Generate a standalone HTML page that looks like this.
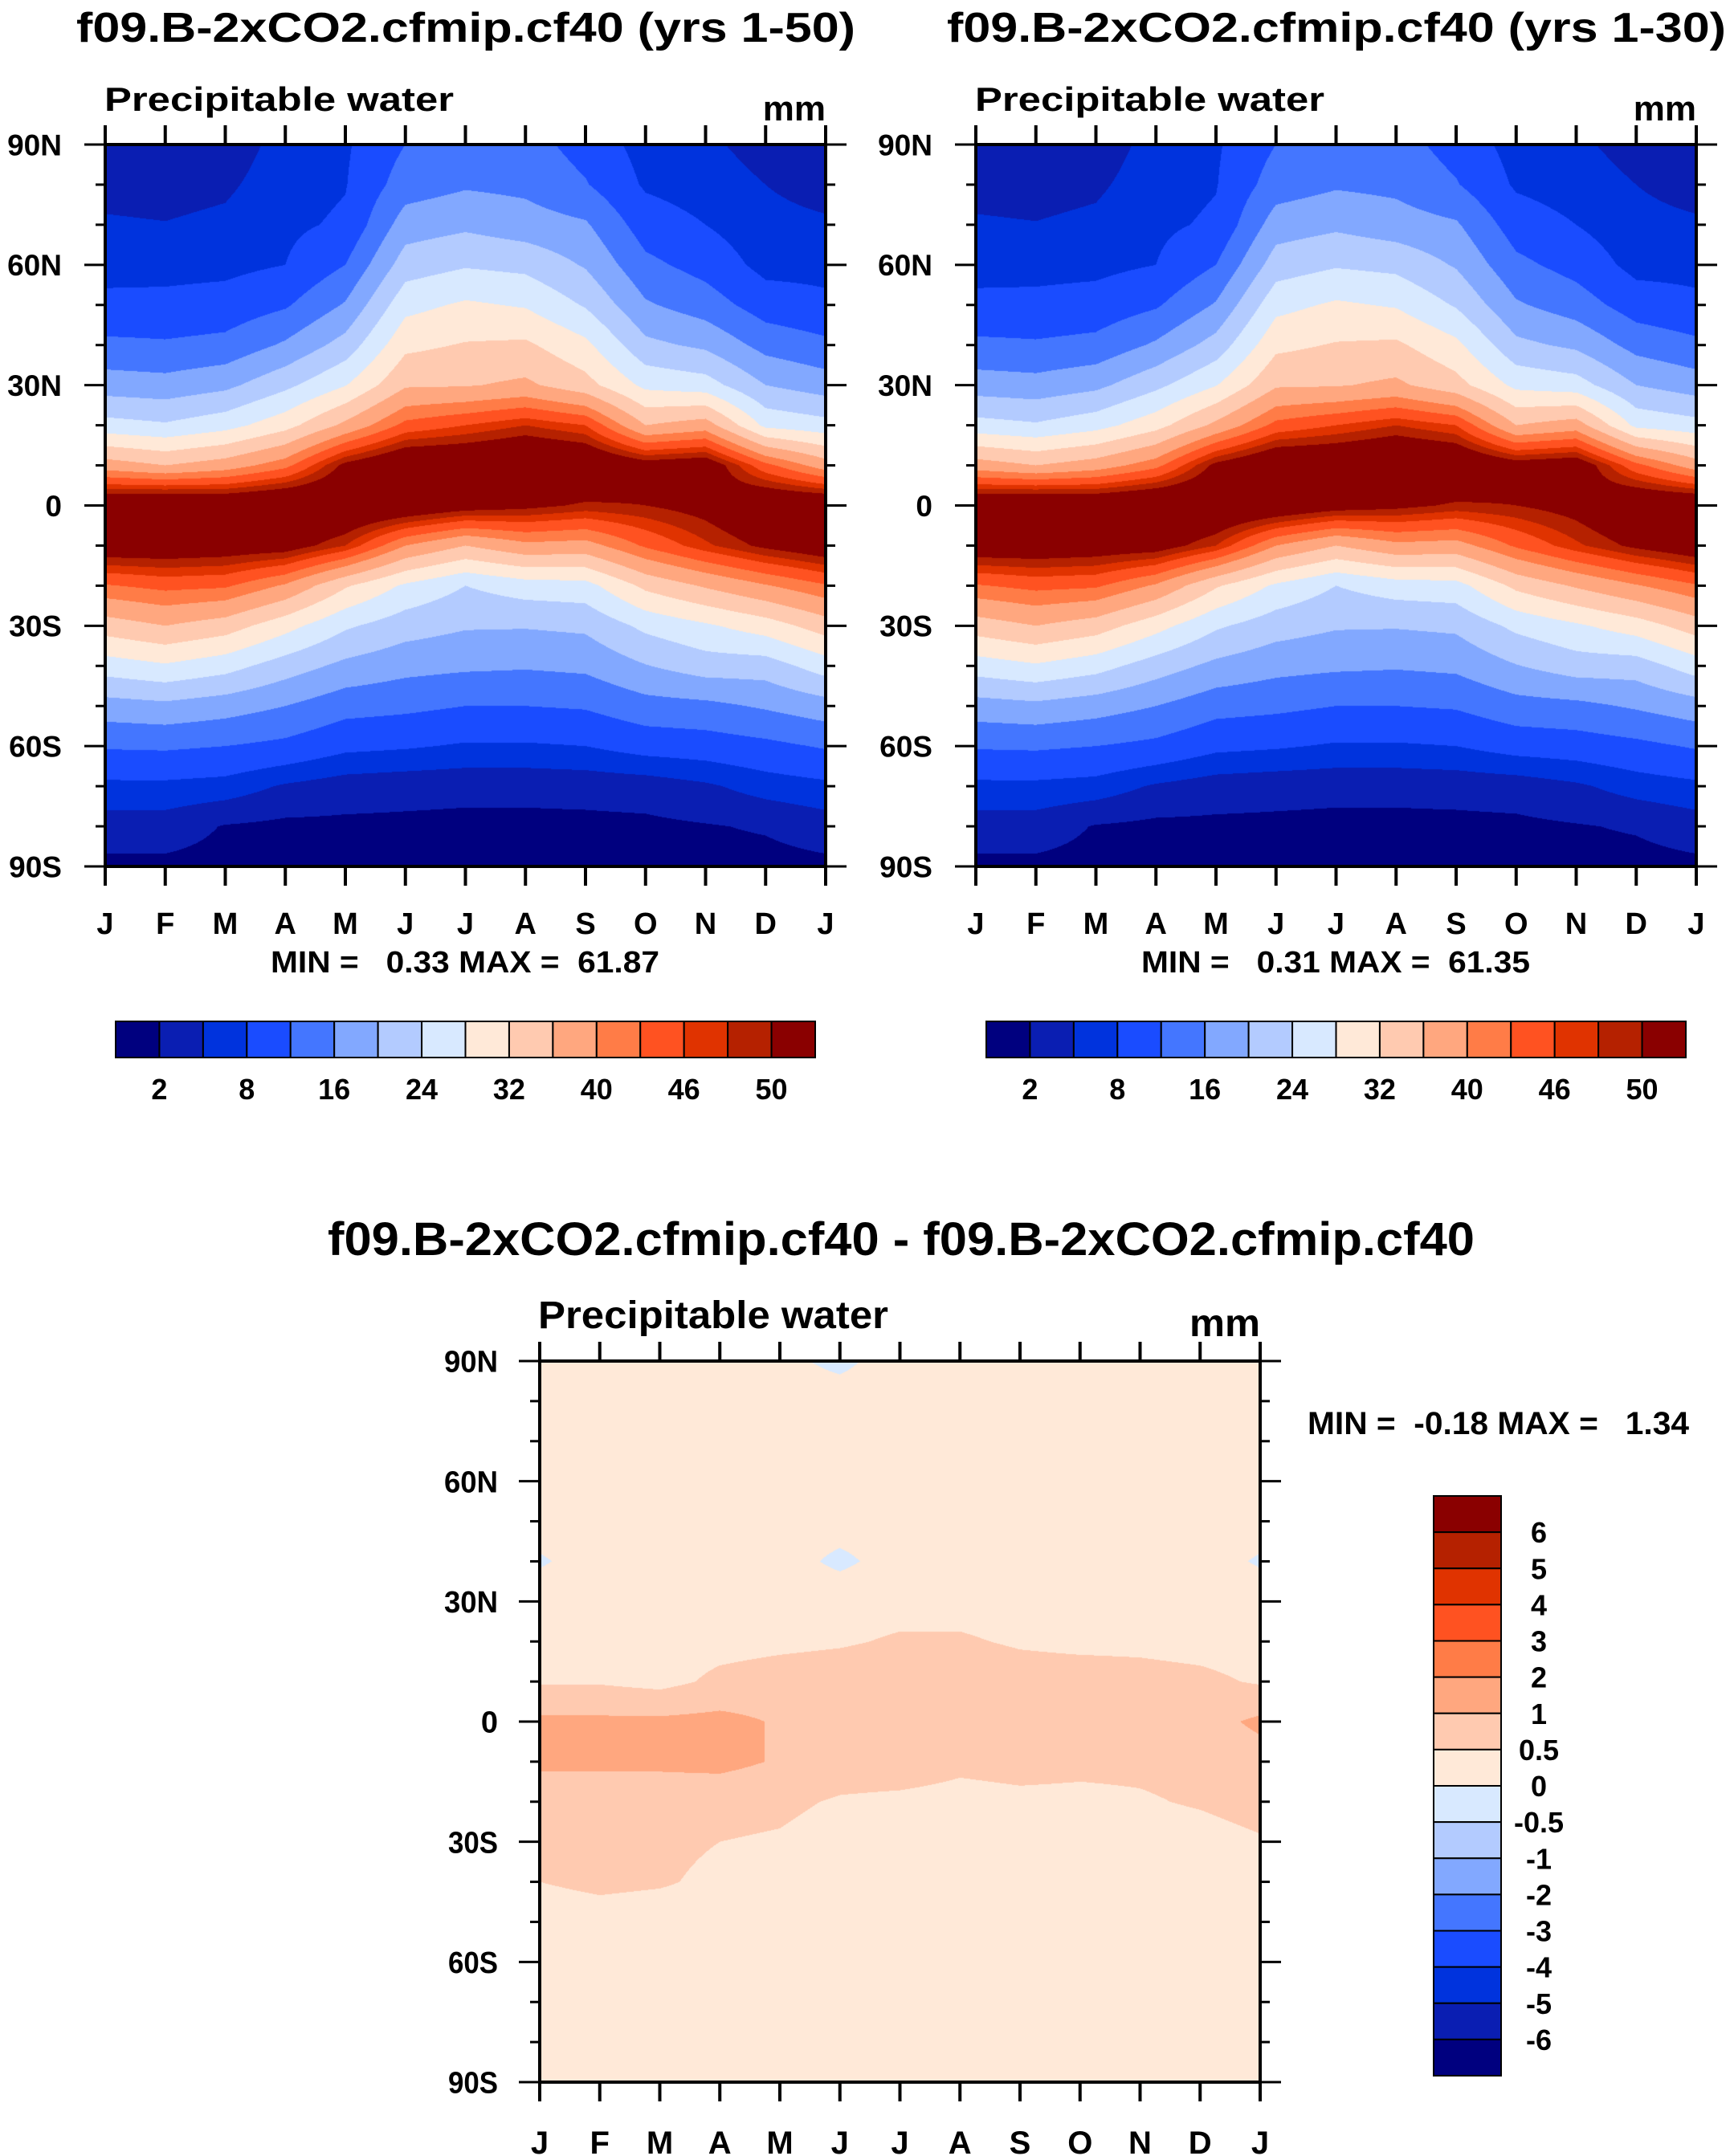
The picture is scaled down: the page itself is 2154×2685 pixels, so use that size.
<!DOCTYPE html>
<html><head><meta charset="utf-8">
<style>
html,body{margin:0;padding:0;background:#fff;}
#root{position:relative;width:2154px;height:2685px;overflow:hidden;background:#fff;}
canvas{position:absolute;}
svg{position:absolute;left:0;top:0;}
text{font-family:"Liberation Sans",sans-serif;font-weight:bold;fill:#000;white-space:pre;}
</style></head>
<body>
<div id="root">
<canvas id="cA"></canvas>
<canvas id="cB"></canvas>
<canvas id="cC"></canvas>
<svg id="ov" width="2154" height="2685"></svg>
</div>
<script>
// ---- data ----
const monthLabels = ['J','F','M','A','M','J','J','A','S','O','N','D','J'];
const latValues = [90,80,70,60,50,40,30,20,10,0,-10,-20,-30,-40,-50,-60,-70,-80,-90];
const latTickLabels = ['90N','60N','30N','0','30S','60S','90S'];
const pwLevels = [2,5,8,12,16,20,24,28,32,36,40,43,46,48,50];
const pwLevelLabels = ['2','8','16','24','32','40','46','50'];
const diffLevels = [-6,-5,-4,-3,-2,-1,-0.5,0,0.5,1,2,3,4,5,6];
const diffLevelLabels = ['6','5','4','3','2','1','0.5','0','-0.5','-1','-2','-3','-4','-5','-6'];
const palette = ['#00007f','#0a1eb2','#0033dd','#1a4cff','#4476ff','#82a8ff','#b3cbff','#d8e9ff','#ffe9d8','#ffcab0','#ffa77f','#ff7c47','#ff5221','#e03300','#b52100','#8a0000'];

// precipitable water, yrs 1-50 (columns = months J..J, rows = latValues)
const pwA_Jan=[3.5,4.2,5.3,6.9,8.8,12.9,18,25.5,38,55,53,42.7,34,26,18.3,12.4,7.2,3.5,1.3];
const pwA_Feb=[3.3,4,5.1,6.8,9,12.5,17.5,24.5,36,56,53,44,36,27.5,19,12.6,7.2,3.5,1.3];
const pwA_Mar=[3.5,4.5,5.6,7,9.5,13.2,19,26.5,38,55,52.5,43.5,34,25.6,17.8,12,6.7,1.8,1];
const pwA_Apr=[6,6.5,7.2,8,11.5,16.6,23,30.5,42,56,52,39.5,29.5,22,16,11,4.6,1.3,1];
const pwA_May=[7.5,7.8,8.6,12,16.4,21.6,27.8,37,51,55,48,32.5,24.6,19,13.5,8.9,3.4,1.4,1];
const pwA_Jun=[12,14,18,22,26.7,31,35.5,44,55,54,40,27.3,21.8,17.3,12.9,8.4,3.0,1.4,1];
const pwA_Jul=[14,15.5,19.2,23.6,28.6,32.3,35.7,46,55,52,36,24,20.4,16.7,12,7.6,2.8,1.3,1];
const pwA_Aug=[13.5,15,17.8,22.9,27.6,32.7,36.8,48,56,51,39,26,20.3,16.4,12,7.6,2.8,1.3,1];
const pwA_Sep=[10.5,12.3,16.5,19.6,23.6,29,33.5,46,55,49.5,38.5,26.5,20.8,16.9,12.4,8,3.0,1.3,1];
const pwA_Oct=[6.5,7.5,10,13,16.5,21,27,36,52,50,43.5,33,25,19.8,14.5,9.5,3.3,1.4,1];
const pwA_Nov=[5.5,6.3,8,10.5,14,19.2,25.8,38,53,51.5,47.5,36.5,27.4,22,15,10,4.5,1.8,1];
const pwA_Dec=[4,5,5.6,6.8,10,14.6,20,27,44,55,50.8,39.7,30,22,16.5,11,6.3,2.3,1];
// yrs 1-30
const pwB_Jan=[3.5,4.2,5.3,6.9,8.8,12.9,18,25.5,38,55,53,42.7,34,26,18.3,12.4,7.2,3.5,1.3];
const pwB_Feb=[3.3,4,5.1,6.8,9,12.5,17.5,24.5,36,56,53,44,36,27.5,19,12.6,7.2,3.5,1.3];
const pwB_Mar=[3.5,4.5,5.6,7,9.5,13.2,19,26.5,38,55,52.5,43.5,34,25.6,17.8,12,6.7,1.8,1];
const pwB_Apr=[6,6.5,7.2,8,11.5,16.6,23,30.5,42,56,52,39.5,29.5,22,16,11,4.6,1.3,1];
const pwB_May=[7.5,7.8,8.6,12,16.4,21.6,27.8,37,51,55,48,32.5,24.6,19,13.5,8.9,3.4,1.4,1];
const pwB_Jun=[12,14,18,22,26.7,31,35.5,44,55,54,40,27.3,21.8,17.3,12.9,8.4,3.0,1.4,1];
const pwB_Jul=[14,15.5,19.2,23.6,28.6,32.3,35.7,46,55,52,36,24,20.4,16.7,12,7.6,2.8,1.3,1];
const pwB_Aug=[13.5,15,17.8,22.9,27.6,32.7,36.8,48,56,51,39,26,20.3,16.4,12,7.6,2.8,1.3,1];
const pwB_Sep=[10.5,12.3,16.5,19.6,23.6,29,33.5,46,55,49.5,38.5,26.5,20.8,16.9,12.4,8,3.0,1.3,1];
const pwB_Oct=[6.5,7.5,10,13,16.5,21,27,36,52,50,43.5,33,25,19.8,14.5,9.5,3.3,1.4,1];
const pwB_Nov=[5.5,6.3,8,10.5,14,19.2,25.8,38,53,51.5,47.5,36.5,27.4,22,15,10,4.5,1.8,1];
const pwB_Dec=[4,5,5.6,6.8,10,14.6,20,27,44,55,50.8,39.7,30,22,16.5,11,6.3,2.3,1];
// difference
const d_Jan=[.2,.2,.2,.2,.2,-.05,.25,.3,.45,1.1,1.1,.7,.55,.5,.25,.25,.25,.25,.25];
const d_Feb=[.2,.2,.2,.2,.2,.2,.25,.3,.45,1.1,1.1,.7,.7,.6,.3,.25,.25,.25,.25];
const d_Mar=[.2,.2,.2,.2,.2,.2,.25,.3,.35,1.1,1.1,.7,.6,.55,.25,.25,.25,.25,.25];
const d_Apr=[.2,.2,.2,.2,.2,.2,.25,.35,.6,1.15,1.15,.65,.5,.4,.25,.25,.25,.25,.25];
const d_May=[.1,.2,.2,.2,.2,.2,.25,.4,.7,.95,.95,.6,.45,.25,.25,.25,.25,.25,.25];
const d_Jun=[-.1,.2,.2,.2,.2,-.1,.3,.45,.75,.8,.75,.45,.3,.25,.25,.25,.25,.25,.25];
const d_Jul=[.2,.2,.2,.2,.2,.2,.35,.55,.8,.75,.75,.4,.25,.25,.25,.25,.25,.25,.25];
const d_Aug=[.2,.2,.2,.2,.2,.2,.35,.55,.8,.75,.6,.35,.25,.25,.25,.25,.25,.25,.25];
const d_Sep=[.2,.2,.2,.2,.2,.2,.3,.45,.7,.75,.65,.4,.25,.25,.25,.25,.25,.25,.25];
const d_Oct=[.2,.2,.2,.2,.2,.2,.3,.4,.7,.8,.6,.4,.25,.25,.25,.25,.25,.25,.25];
const d_Nov=[.2,.2,.2,.2,.2,.2,.3,.4,.65,1.0,.6,.45,.25,.25,.25,.25,.25,.25,.25];
const d_Dec=[.2,.2,.2,.2,.2,.2,.3,.35,.6,.8,.65,.55,.3,.25,.25,.25,.25,.25,.25];
const d_Jan2=[.2,.2,.2,.2,.2,-.05,.25,.3,.45,1.1,.8,.7,.45,.3,.25,.25,.25,.25,.25];

const gridA=[pwA_Jan,pwA_Feb,pwA_Mar,pwA_Apr,pwA_May,pwA_Jun,pwA_Jul,pwA_Aug,pwA_Sep,pwA_Oct,pwA_Nov,pwA_Dec,pwA_Jan];
const gridB=[pwB_Jan,pwB_Feb,pwB_Mar,pwB_Apr,pwB_May,pwB_Jun,pwB_Jul,pwB_Aug,pwB_Sep,pwB_Oct,pwB_Nov,pwB_Dec,pwB_Jan];
const gridC=[d_Jan,d_Feb,d_Mar,d_Apr,d_May,d_Jun,d_Jul,d_Aug,d_Sep,d_Oct,d_Nov,d_Dec,d_Jan2];

function hex(c){return [parseInt(c.substr(1,2),16),parseInt(c.substr(3,2),16),parseInt(c.substr(5,2),16)];}
const palRGB=palette.map(hex);
function levelIndex(v,levels){let i=0;while(i<levels.length&&v>=levels[i])i++;return i;}

function drawField(id,grid,levels,x0,y0,w,h){
  const cv=document.getElementById(id);
  cv.width=w;cv.height=h;cv.style.left=x0+'px';cv.style.top=y0+'px';
  const ctx=cv.getContext('2d');const img=ctx.createImageData(w,h);const d=img.data;
  const nM=grid.length-1, nL=latValues.length-1;
  for(let py=0;py<h;py++){
    const lat=90-(py+0.5)/h*180;
    const r=(latValues[0]-lat)/(latValues[0]-latValues[1]);
    const r0=Math.min(nL-1,Math.floor(r)), fr=r-r0;
    for(let px=0;px<w;px++){
      const m=(px+0.5)/w*nM;
      const m0=Math.min(nM-1,Math.floor(m)), fm=m-m0;
      const v=(grid[m0][r0]*(1-fm)+grid[m0+1][r0]*fm)*(1-fr)+(grid[m0][r0+1]*(1-fm)+grid[m0+1][r0+1]*fm)*fr;
      const c=palRGB[levelIndex(v,levels)];
      const k=(py*w+px)*4;d[k]=c[0];d[k+1]=c[1];d[k+2]=c[2];d[k+3]=255;
    }
  }
  ctx.putImageData(img,0,0);
}

const NS='http://www.w3.org/2000/svg';
const ov=document.getElementById('ov');
function el(tag,attrs,parent){const e=document.createElementNS(NS,tag);for(const k in attrs)e.setAttribute(k,attrs[k]);(parent||ov).appendChild(e);return e;}
function txt(s,x,y,size,anchor,len,parent){const t=el('text',{x:x,y:y,'font-size':size,'text-anchor':anchor||'start'},parent);t.setAttributeNS('http://www.w3.org/XML/1998/namespace','xml:space','preserve');if(len){t.setAttribute('textLength',len);t.setAttribute('lengthAdjust','spacingAndGlyphs');}t.textContent=s;return t;}

function axes(name,x0,y0,w,h,opt){
  const g=el('g',{});
  
  
  const xs=m=>x0+m/12*w, ys=lat=>y0+(90-lat)/180*h;
  const frame=el('rect',{x:x0,y:y0,width:w,height:h,fill:'none',stroke:'#000','stroke-width':4},g);
  
  
  for(let m=0;m<=12;m++){
    const x=xs(m);
    el('line',{x1:x,y1:y0,x2:x,y2:y0-opt.tick,stroke:'#000','stroke-width':4},g);
    el('line',{x1:x,y1:y0+h,x2:x,y2:y0+h+opt.tick,stroke:'#000','stroke-width':4},g);
    const t=txt(monthLabels[m],x,opt.monthY,opt.mSize,'middle',null,g);
    
    
  }
  for(let lat=90;lat>=-90;lat-=10){
    const y=ys(lat);const major=(lat%30===0);const L=major?opt.tick+2:opt.tick/2;
    el('line',{x1:x0-L,y1:y,x2:x0,y2:y,stroke:'#000','stroke-width':3},g);
    el('line',{x1:x0+w,y1:y,x2:x0+w+L,y2:y,stroke:'#000','stroke-width':3},g);
  }
  latTickLabels.forEach((s,i)=>{
    const t=txt(s,opt.latX,ys(90-i*30)+opt.lSize*0.36,opt.lSize,'end',opt.latLen?opt.latLen[i]:null,g);
    
    
  });
}

function hColorbar(name,x0,y0,w,h,labels,lSize,labY){
  const g=el('g',{});
  
  
  const bw=w/16;
  for(let i=0;i<16;i++){
    const r=el('rect',{x:x0+i*bw,y:y0,width:bw,height:h,fill:palette[i],stroke:'#000','stroke-width':2},g);
    
    
  }
  labels.forEach((s,i)=>{
    const t=txt(s,x0+(1+2*i)*bw,labY,lSize,'middle',null,g);
    
    
  });
}

drawField('cA',gridA,pwLevels,131,180,897,899);
drawField('cB',gridB,pwLevels,1215,180,897,899);
drawField('cC',gridC,diffLevels,672,1695,897,898);

[[0,'(yrs 1-50)','0.33','61.87','left'],[1084,'(yrs 1-30)','0.31','61.35','right']].forEach(p=>{
  const dx=p[0];
  const t=txt('f09.B-2xCO2.cfmip.cf40 '+p[1],580+dx,52,52,'middle',970);
  
  
  const s=txt('Precipitable water',130+dx,138,42,'start',435);
  
  
  const u=txt('mm',1028+dx,150,44,'end');
  
  
  axes('top-'+p[4],131+dx,180,897,899,{tick:24,monthY:1163,mSize:38,latX:77+dx,lSize:37});
  const mm=txt('MIN =   '+p[2]+' MAX =  '+p[3],579+dx,1211,38,'middle',484);
  
  
  hColorbar('colorbar-'+p[4],144+dx,1272,871,45,pwLevelLabels,36,1369);
});

// ---- bottom difference plot ----
const bt=txt('f09.B-2xCO2.cfmip.cf40 - f09.B-2xCO2.cfmip.cf40',1122,1563,58,'middle',1428);


const bs=txt('Precipitable water',670,1654,48,'start',436);


const bu=txt('mm',1569,1664,48,'end',88);


axes('bottom',672,1695,897,898,{tick:24,monthY:2682,mSize:40,latX:620,lSize:38,latLen:[67,67,67,null,62,62,62]});
const bm=txt('MIN =  -0.18 MAX =   1.34',1628,1786,40,'start',475);


(function(){
  const g=el('g',{});
  
  
  const x0=1785,y0=1863,w=84,bh=(2585-1863)/16;
  for(let i=0;i<16;i++){
    const r=el('rect',{x:x0,y:y0+i*bh,width:w,height:bh,fill:palette[15-i],stroke:'#000','stroke-width':2},g);
    
    
  }
  diffLevelLabels.forEach((s,i)=>{
    const t=txt(s,1916,y0+(i+1)*bh+13,36,'middle',null,g);
    
    
  });
})();
</script>
</body></html>
